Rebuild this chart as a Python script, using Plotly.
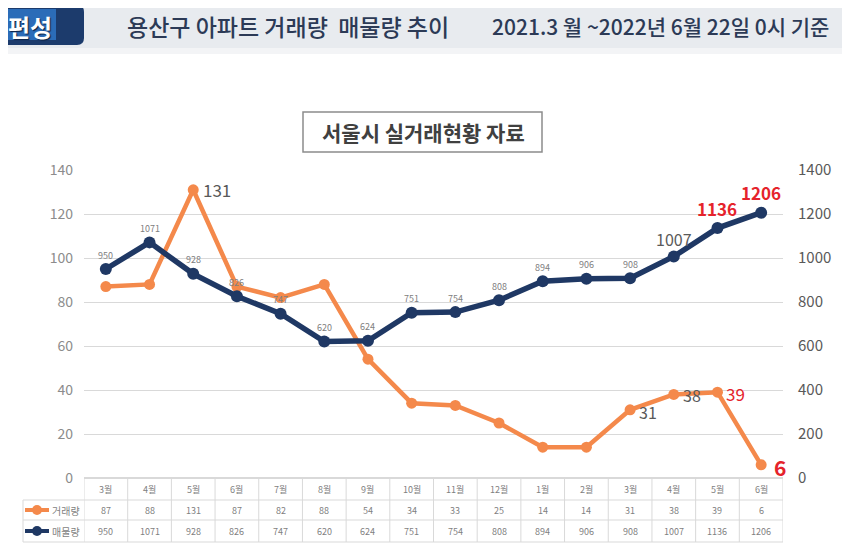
import plotly.graph_objects as go

# ---------------- data ----------------
months = ["3월", "4월", "5월", "6월", "7월", "8월", "9월", "10월", "11월", "12월",
          "1월", "2월", "3월", "4월", "5월", "6월"]
trade = [87, 88, 131, 87, 82, 88, 54, 34, 33, 25, 14, 14, 31, 38, 39, 6]          # 거래량
listings = [950, 1071, 928, 826, 747, 620, 624, 751, 754, 808, 894, 906, 908, 1007, 1136, 1206]  # 매물량
left_ticks = [0, 20, 40, 60, 80, 100, 120, 140]
right_ticks = [0, 200, 400, 600, 800, 1000, 1200, 1400]
series_names = ["거래량", "매물량"]
header_title_1 = "용산구 아파트 거래량  매물량 추이"
header_title_2 = "2021.3 월 ~2022년 6월 22일 0시 기준"
badge_text = "편성"
chart_title = "서울시 실거래현황 자료"

# ---------------- style ----------------
FONT = "Noto Sans CJK KR, Noto Sans, sans-serif"
ORANGE = "#f4894b"
NAVY = "#1f3864"
RED = "#e5232b"
GRID = "#d9d9d9"
WIN_W, WIN_H = 850, 556
OFF = 8  # page body margin in the browser
L, R, T, B = 84, 783, 170, 478  # plot area in window pixels


def xp(px):
    return (px - L) / (R - L)


def yp(py):
    return (B - py) / (B - T)


def rounded_path(x0, y0, x1, y1, r):
    pts = [f"M{xp(x0 + r)},{yp(y0)}",
           f"L{xp(x1 - r)},{yp(y0)}",
           f"Q{xp(x1)},{yp(y0)} {xp(x1)},{yp(y0 + r)}",
           f"L{xp(x1)},{yp(y1 - r)}",
           f"Q{xp(x1)},{yp(y1)} {xp(x1 - r)},{yp(y1)}",
           f"L{xp(x0 + r)},{yp(y1)}",
           f"Q{xp(x0)},{yp(y1)} {xp(x0)},{yp(y1 - r)}",
           f"L{xp(x0)},{yp(y0 + r)}",
           f"Q{xp(x0)},{yp(y0)} {xp(x0 + r)},{yp(y0)}",
           "Z"]
    return " ".join(pts)


xs = list(range(len(months)))

fig = go.Figure()
fig.add_trace(go.Scatter(
    x=xs, y=listings, yaxis="y2", mode="lines+markers", name=series_names[1],
    line=dict(color=NAVY, width=5.5), marker=dict(color=NAVY, size=12),
    hoverinfo="skip", showlegend=False))
fig.add_trace(go.Scatter(
    x=xs, y=trade, yaxis="y", mode="lines+markers", name=series_names[0],
    line=dict(color=ORANGE, width=4.5), marker=dict(color=ORANGE, size=11),
    hoverinfo="skip", showlegend=False))

shapes = []
annotations = []

# ---- header band ----
shapes.append(dict(type="rect", xref="paper", yref="paper", x0=xp(0), x1=xp(WIN_W),
                   y0=yp(48), y1=yp(0), fillcolor="#e8ebef", line=dict(width=0), layer="below"))
shapes.append(dict(type="rect", xref="paper", yref="paper", x0=xp(0), x1=xp(WIN_W),
                   y0=yp(54), y1=yp(48), fillcolor="#f3f4f6", line=dict(width=0), layer="below"))
# badge
shapes.append(dict(type="path", xref="paper", yref="paper", path=rounded_path(-10, 5, 84, 45, 7),
                   fillcolor="#1c3b6c", line=dict(width=0)))
shapes.append(dict(type="rect", xref="paper", yref="paper", x0=xp(0), x1=xp(56),
                   y0=yp(40), y1=yp(9), fillcolor="#2b6cb8", line=dict(width=0)))
annotations.append(dict(xref="paper", yref="paper", x=xp(30), y=yp(26), text=f"<b>{badge_text}</b>",
                        showarrow=False, xanchor="center", yanchor="middle",
                        font=dict(family=FONT, size=24, color="white",
                                  shadow="1px 1px 1px #0b1f40")))
annotations.append(dict(xref="paper", yref="paper", x=xp(125), y=yp(26), text=header_title_1,
                        showarrow=False, xanchor="left", yanchor="middle",
                        font=dict(family=FONT, size=23, color="#2c3a56", weight=500)))
annotations.append(dict(xref="paper", yref="paper", x=xp(490), y=yp(26), text=header_title_2,
                        showarrow=False, xanchor="left", yanchor="middle",
                        font=dict(family=FONT, size=21, color="#2c3a56", weight=500)))

# ---- chart title box ----
shapes.append(dict(type="rect", xref="paper", yref="paper", x0=xp(303), x1=xp(542),
                   y0=yp(152), y1=yp(112), line=dict(color="#8c8c8c", width=1.5),
                   fillcolor="white"))
annotations.append(dict(xref="paper", yref="paper", x=xp(423), y=yp(132), text=chart_title,
                        showarrow=False, xanchor="center", yanchor="middle",
                        font=dict(family=FONT, size=21, color="#404040", weight=600)))

# ---- data labels ----
for i, v in enumerate(listings):
    if i < 13:
        annotations.append(dict(xref="x", yref="y2", x=i, y=v, text=str(v), showarrow=False,
                                xanchor="center", yanchor="middle", yshift=14,
                                font=dict(family=FONT, size=9, color="#808080")))
    elif i == 13:
        annotations.append(dict(xref="x", yref="y2", x=i, y=v, text=str(v), showarrow=False,
                                xanchor="center", yanchor="middle", yshift=17,
                                font=dict(family=FONT, size=16, color="#5a5a5a")))
    else:
        annotations.append(dict(xref="x", yref="y2", x=i, y=v, text=f"<b>{v}</b>", showarrow=False,
                                xanchor="center", yanchor="middle", yshift=20,
                                font=dict(family=FONT, size=17, color=RED)))

orange_label_style = {
    2: dict(size=17, color="#595959", bold=False, xshift=8, yshift=0),
    12: dict(size=16, color="#595959", bold=False, xshift=7, yshift=-2),
    13: dict(size=16, color="#595959", bold=False, xshift=7, yshift=-1),
    14: dict(size=17, color=RED, bold=False, xshift=7, yshift=-1),
    15: dict(size=21, color=RED, bold=True, xshift=11, yshift=-2),
}
for i, st in orange_label_style.items():
    v = trade[i]
    txt = f"<b>{v}</b>" if st["bold"] else str(v)
    annotations.append(dict(xref="x", yref="y", x=i, y=v, text=txt, showarrow=False,
                            xanchor="left", yanchor="middle", xshift=st["xshift"], yshift=st["yshift"],
                            font=dict(family=FONT, size=st["size"], color=st["color"])))

# ---- data table ----
row_lines = [500, 520, 542]
n = len(months)
shapes.append(dict(type="line", xref="x", yref="paper", x0=-0.5, x1=n - 0.5,
                   y0=yp(478), y1=yp(478), line=dict(color=GRID, width=1)))
for ry in row_lines:
    shapes.append(dict(type="line", xref="paper", yref="paper", x0=xp(23), x1=1,
                       y0=yp(ry), y1=yp(ry), line=dict(color=GRID, width=1)))
for k in range(n + 1):
    shapes.append(dict(type="line", xref="x", yref="paper", x0=k - 0.5, x1=k - 0.5,
                       y0=yp(478), y1=yp(542), line=dict(color=GRID, width=1)))
shapes.append(dict(type="line", xref="paper", yref="paper", x0=xp(23), x1=xp(23),
                   y0=yp(500), y1=yp(542), line=dict(color=GRID, width=1)))

cell_font = dict(family=FONT, size=9, color="#7f7f7f")
for i in xs:
    annotations.append(dict(xref="x", yref="paper", x=i, y=yp(489), text=months[i], showarrow=False,
                            xanchor="center", yanchor="middle", font=cell_font))
    annotations.append(dict(xref="x", yref="paper", x=i, y=yp(510), text=str(trade[i]), showarrow=False,
                            xanchor="center", yanchor="middle", font=cell_font))
    annotations.append(dict(xref="x", yref="paper", x=i, y=yp(531), text=str(listings[i]), showarrow=False,
                            xanchor="center", yanchor="middle", font=cell_font))

# legend keys in table
for ry, col, name in [(510, ORANGE, series_names[0]), (531, NAVY, series_names[1])]:
    shapes.append(dict(type="line", xref="paper", yref="paper", x0=xp(25), x1=xp(49),
                       y0=yp(ry), y1=yp(ry), line=dict(color=col, width=4)))
    shapes.append(dict(type="circle", xref="paper", yref="paper", x0=xp(32), x1=xp(42),
                       y0=yp(ry + 5), y1=yp(ry - 5), fillcolor=col, line=dict(width=0)))
    annotations.append(dict(xref="paper", yref="paper", x=xp(50), y=yp(ry), text=name, showarrow=False,
                            xanchor="left", yanchor="middle",
                            font=dict(family=FONT, size=10, color="#7f7f7f")))

fig.update_layout(
    width=WIN_W - OFF, height=WIN_H - OFF,
    margin=dict(l=L - OFF, r=WIN_W - R, t=T - OFF, b=WIN_H - B, autoexpand=False),
    paper_bgcolor="white", plot_bgcolor="white",
    xaxis=dict(range=[-0.5, n - 0.5], showticklabels=False, showgrid=False, zeroline=False,
               showline=False, ticks=""),
    yaxis=dict(range=[0, 140], tickvals=left_ticks, showgrid=True, gridcolor=GRID, gridwidth=1,
               zeroline=True, zerolinecolor=GRID, showline=False, ticks="",
               ticklabelstandoff=10,
               tickfont=dict(family=FONT, size=14, color="#8c8c8c")),
    yaxis2=dict(range=[0, 1400], tickvals=right_ticks, overlaying="y", side="right",
                showgrid=False, zeroline=False, showline=False, ticks="",
                ticklabelstandoff=14,
                tickfont=dict(family=FONT, size=15, color="#595959")),
    shapes=shapes, annotations=annotations,
)

fig.write_html("out.html")
